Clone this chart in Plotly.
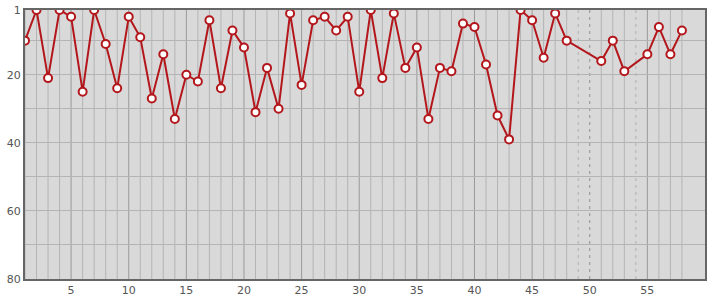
import plotly.graph_objects as go

# data
x_vals = list(range(1, 49)) + [51, 52, 53, 55, 56, 57, 58]
y_vals = [10, 1, 21, 1, 3, 25, 1, 11, 24, 3,
          9, 27, 14, 33, 20, 22, 4, 24, 7, 12,
          31, 18, 30, 2, 23, 4, 3, 7, 3, 25,
          1, 21, 2, 18, 12, 33, 18, 19, 5, 6,
          17, 32, 39, 1, 4, 15, 2, 10,
          16, 10, 19, 14, 6, 14, 7]
x_ticks = [5, 10, 15, 20, 25, 30, 35, 40, 45, 50, 55]
y_ticks = [1, 20, 40, 60, 80]
x_range = [1, 60]
y_range = [80, 1]

fig = go.Figure()

# vertical gridlines (one per slot, dashed where data is missing)
present = set(x_vals)
for i in range(min(x_vals), max(x_vals) + 1):
    if i in present:
        color = "#9a9a9a" if i % 5 == 0 else "#b4b4b4"
        dash = "solid"
    else:
        color = "#8f8f8f" if i % 5 == 0 else "#b0b0b0"
        dash = "3px,4px"
    fig.add_shape(type="line", xref="x", yref="paper", x0=i, x1=i, y0=0, y1=1,
                  line=dict(color=color, width=1, dash=dash), layer="below")

fig.add_trace(go.Scatter(
    x=x_vals, y=y_vals, mode="lines+markers",
    line=dict(color="#b3171c", width=2),
    marker=dict(symbol="circle", size=8, color="white",
                line=dict(color="#b3171c", width=2)),
    hoverinfo="x+y", showlegend=False,
))

fig.update_layout(
    width=715, height=300,
    margin=dict(l=25, r=10, t=10, b=21),
    paper_bgcolor="white",
    plot_bgcolor="#d9d9d9",
    font=dict(family="DejaVu Sans", size=11, color="#555"),
)
fig.update_xaxes(
    range=x_range, tickvals=x_ticks, ticks="", showgrid=False, zeroline=False,
    showline=True, linecolor="#666666", linewidth=2, mirror=True,
    tickfont=dict(size=11, color="#555"), automargin=False,
)
fig.update_yaxes(
    range=y_range, tickvals=y_ticks, ticks="", showgrid=True, gridcolor="#b4b4b4",
    gridwidth=1, zeroline=False,
    minor=dict(dtick=10, tick0=0, showgrid=True, gridcolor="#b4b4b4", gridwidth=1),
    showline=True, linecolor="#666666", linewidth=2, mirror=True,
    tickfont=dict(size=11, color="#555"), automargin=False,
)

fig.write_html("out.html")
